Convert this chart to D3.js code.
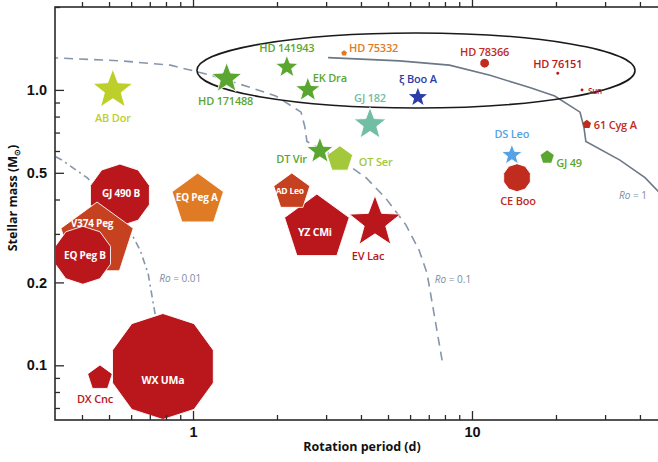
<!DOCTYPE html>
<html>
<head>
<meta charset="utf-8">
<script src="https://cdn.jsdelivr.net/npm/d3@7"></script>
<style>
  html, body { margin: 0; padding: 0; background: #fff; }
  svg { display: block; font-family: "Open Sans", "Noto Sans", sans-serif; }
</style>
</head>
<body>
<svg id="chart" width="658" height="462"></svg>
<script>
// ---- Data -------------------------------------------------------------
// Stars in drawing order (later ones sit on top).
const names = ["Sun", "HD 76151", "HD 78366", "HD 75332", "61 Cyg A", "AB Dor", "HD 171488",
  "HD 141943", "EK Dra", "ξ Boo A", "GJ 182", "DT Vir", "OT Ser", "DS Leo", "CE Boo", "GJ 49",
  "YZ CMi", "AD Leo", "EV Lac", "EQ Peg A", "GJ 490 B", "V374 Peg", "EQ Peg B", "WX UMa", "DX Cnc"];
// Rotation period (d)
const periods = [24.8, 20.3, 11.1, 3.48, 25.8, 0.516, 1.32, 2.17, 2.58, 6.4, 4.31, 2.85, 3.36,
  13.9, 14.5, 18.6, 2.78, 2.26, 4.49, 1.04, 0.547, 0.453, 0.403, 0.78, 0.464];
// Stellar mass (solar masses)
const masses = [1.0, 1.15, 1.25, 1.36, 0.75, 1.0, 1.1, 1.21, 1.0, 0.94, 0.75, 0.6, 0.56,
  0.58, 0.48, 0.57, 0.315, 0.426, 0.33, 0.398, 0.415, 0.285, 0.251, 0.099, 0.09];
// Mean large-scale field (kG) -> symbol size
const meanField = [0.03, 0.03, 0.09, 0.06, 0.09, 0.42, 0.32, 0.24, 0.26, 0.19, 0.34, 0.28, 0.27,
  0.22, 0.28, 0.14, 0.68, 0.38, 0.54, 0.54, 0.62, 0.76, 0.58, 1.06, 0.26];
// Fraction of magnetic energy in poloidal modes -> colour
const poloidal = [1.0, 1.0, 0.95, 0.8, 0.95, 0.7, 0.5, 0.5, 0.5, 0.1, 0.35, 0.5, 0.6,
  0.2, 0.95, 0.5, 1.0, 0.9, 1.0, 0.8, 1.0, 0.9, 1.0, 1.0, 1.0];
// Fraction of poloidal energy in axisymmetric modes -> shape
const axisymmetry = [0.9, 0.9, 0.9, 0.5, 0.5, 0.1, 0.1, 0.1, 0.1, 0.1, 0.1, 0.1, 0.5,
  0.1, 0.9, 0.5, 0.5, 0.5, 0.1, 0.5, 0.9, 0.5, 0.9, 0.9, 0.5];

// Convective turnover time vs mass: the Ro = 1 locus (P = tau_c)
const tauMass = [1.31, 1.275, 1.23, 1.13, 1.02, 0.95, 0.83, 0.73, 0.65, 0.556, 0.48, 0.405, 0.323, 0.262, 0.216, 0.1];
const tauDays = [3.05, 5.5, 8.3, 11.6, 16.1, 19.8, 24.4, 25.2, 25.6, 33.9, 41.7, 49, 58, 64.6, 69, 78.7];
const rossby = [0.01, 0.1, 1];

// Saturation regime outline (period range, mass range)
const ellipsePeriods = [1.033, 38.4];
const ellipseMasses = [0.86, 1.61];

// Axis ticks
const periodTickLabels = [1, 10];
const massTickLabels = [0.1, 0.2, 0.5, 1.0];

// ---- Layout -----------------------------------------------------------
const plotLeft = 55, plotRight = 660, plotTop = 7, plotBottom = 420;
const svg = d3.select("#chart");

const x = d3.scaleLog().domain([0.3201, 47.2]).range([plotLeft, plotRight]);
const y = d3.scaleLog().domain([0.0633, 2.0]).range([plotBottom, plotTop]);
const r = d3.scaleLinear().domain([0, 1]).range([0, 50]);

const colour = d3.scaleLinear()
  .domain([0.1, 0.2, 0.35, 0.5, 0.6, 0.7, 0.8, 0.9, 1.0])
  .range(["#2c3ca8", "#55a3e6", "#72bea4", "#5ba631", "#a3c83b", "#bdcf2b", "#de7b24", "#c6411f", "#b9171c"])
  .interpolate(d3.interpolateRgb);
const shapeOf = a => a >= 0.7 ? "decagon" : a >= 0.3 ? "pentagon" : "star";

// Label placement relative to each symbol
const labelLayout = {
  "Sun":       { dx: 6,  dy: 1,   anchor: "start",  size: 8 },
  "HD 76151":  { dx: 0,  dy: -10, anchor: "middle" },
  "HD 78366":  { dx: 0,  dy: -12, anchor: "middle" },
  "HD 75332":  { dx: 5,  dy: -6,  anchor: "start" },
  "61 Cyg A":  { dx: 7,  dy: 0,   anchor: "start" },
  "AB Dor":    { dx: 0,  dy: 28,  anchor: "middle" },
  "HD 171488": { dx: -1, dy: 22,  anchor: "middle" },
  "HD 141943": { dx: 0,  dy: -20, anchor: "middle" },
  "EK Dra":    { dx: 5,  dy: -12, anchor: "start" },
  "ξ Boo A":   { dx: 0,  dy: -19, anchor: "middle" },
  "GJ 182":    { dx: 0,  dy: -27, anchor: "middle" },
  "DT Vir":    { dx: -13, dy: 7,  anchor: "end" },
  "OT Ser":    { dx: 19, dy: 2,   anchor: "start" },
  "DS Leo":    { dx: 0,  dy: -22, anchor: "middle" },
  "CE Boo":    { dx: 1,  dy: 23,  anchor: "middle" },
  "GJ 49":     { dx: 9,  dy: 5,   anchor: "start" },
  "YZ CMi":    { dx: -2, dy: 4,   anchor: "middle", inside: true, size: 10.5 },
  "AD Leo":    { dx: -2, dy: -1,  anchor: "middle", inside: true, size: 8.5 },
  "EV Lac":    { dx: -7, dy: 33,  anchor: "middle" },
  "EQ Peg A":  { dx: -1, dy: -3,  anchor: "middle", inside: true, size: 10 },
  "GJ 490 B":  { dx: 1,  dy: -2,  anchor: "middle", inside: true, size: 10 },
  "V374 Peg":  { dx: -5, dy: -17, anchor: "middle", inside: true, size: 10 },
  "EQ Peg B":  { dx: 2,  dy: 0,   anchor: "middle", inside: true, size: 10 },
  "WX UMa":    { dx: 0,  dy: 13,  anchor: "middle", inside: true, size: 10.5 },
  "DX Cnc":    { dx: -5, dy: 21,  anchor: "middle" }
};

// ---- Symbol geometry ---------------------------------------------------
function polygonPath(n, R, rot) {
  const pts = d3.range(n).map(i => {
    const a = rot + i * 2 * Math.PI / n;
    return [R * Math.sin(a), -R * Math.cos(a)];
  });
  return "M" + pts.map(p => p.join(",")).join("L") + "Z";
}
function starPath(R) {
  const inner = R * 0.42;
  const pts = d3.range(10).map(i => {
    const a = i * Math.PI / 5;
    const rr = i % 2 === 0 ? R : inner;
    return [rr * Math.sin(a), -rr * Math.cos(a)];
  });
  return "M" + pts.map(p => p.join(",")).join("L") + "Z";
}
function symbolPath(shape, R) {
  if (shape === "star") return starPath(R);
  if (shape === "pentagon") return polygonPath(5, R, 0);
  return polygonPath(10, R, 0);
}

// ---- Clip --------------------------------------------------------------
svg.append("defs").append("clipPath").attr("id", "plot-clip")
  .append("rect").attr("x", plotLeft).attr("y", plotTop)
  .attr("width", plotRight - plotLeft).attr("height", plotBottom - plotTop);

const plot = svg.append("g").attr("clip-path", "url(#plot-clip)");

// ---- Rossby-number loci ------------------------------------------------
const rossbyStyle = {
  0.01: { dash: "7,4,2,4", stroke: "#8796aa" },
  0.1:  { dash: "9,6", stroke: "#8796aa" },
  1:    { dash: null, stroke: "#6c7886" }
};
const lineGen = d3.line().x(d => x(d[0])).y(d => y(d[1]));
rossby.forEach(ro => {
  const pts = tauDays.map((t, i) => [t * ro, tauMass[i]]);
  plot.append("path")
    .attr("d", lineGen(pts))
    .attr("fill", "none")
    .attr("stroke", rossbyStyle[ro].stroke)
    .attr("stroke-width", 1.6)
    .attr("stroke-dasharray", rossbyStyle[ro].dash);
});

// Rossby labels (period, mass)
const rossbyLabels = [
  { ro: "0.01", p: 0.9, m: 0.207 },
  { ro: "0.1", p: 8.55, m: 0.205 },
  { ro: "1", p: 37.8, m: 0.416 }
];
rossbyLabels.forEach(l => {
  const t = plot.append("text")
    .attr("x", x(l.p)).attr("y", y(l.m))
    .attr("text-anchor", "middle").attr("dominant-baseline", "central")
    .attr("font-size", 10).attr("fill", "#7b8ba3");
  t.append("tspan").attr("font-style", "italic").text("Ro");
  t.append("tspan").text(" = " + l.ro);
});

// ---- Saturation ellipse ------------------------------------------------
const ex0 = x(ellipsePeriods[0]), ex1 = x(ellipsePeriods[1]);
const ey0 = y(ellipseMasses[0]), ey1 = y(ellipseMasses[1]);
plot.append("ellipse")
  .attr("cx", (ex0 + ex1) / 2).attr("cy", (ey0 + ey1) / 2)
  .attr("rx", (ex1 - ex0) / 2).attr("ry", (ey0 - ey1) / 2)
  .attr("fill", "none").attr("stroke", "#1a1a1a").attr("stroke-width", 1.6);

// ---- Symbols -----------------------------------------------------------
const stars = names.map((n, i) => ({
  name: n, period: periods[i], mass: masses[i], field: meanField[i],
  pol: poloidal[i], shape: shapeOf(axisymmetry[i])
}));

const marks = plot.append("g");
stars.forEach(s => {
  const R = r(s.field);
  marks.append("path")
    .attr("transform", `translate(${x(s.period)},${y(s.mass)})`)
    .attr("d", symbolPath(s.shape, R))
    .attr("fill", colour(s.pol))
    .attr("stroke", R > 10 ? "#fff" : "none")
    .attr("stroke-width", 0.9)
    .attr("stroke-linejoin", "round");
  const L = labelLayout[s.name];
  marks.append("text")
    .attr("x", x(s.period) + L.dx).attr("y", y(s.mass) + L.dy)
    .attr("text-anchor", L.anchor).attr("dominant-baseline", "central")
    .attr("font-size", L.size || 11)
    .attr("font-weight", L.inside ? 700 : 600)
    .attr("letter-spacing", -0.2)
    .attr("fill", L.inside ? "#fff" : colour(s.pol))
    .text(s.name);
});

// ---- Axes --------------------------------------------------------------
const axisColor = "#2a2a2a";
const minorX = x.ticks().filter(v => !periodTickLabels.some(t => Math.abs(t - v) < 1e-9));
const minorY = y.ticks().filter(v => !massTickLabels.some(t => Math.abs(t - v) < 1e-9));

function styleAxis(g) {
  g.select(".domain").remove();
  g.selectAll("line").attr("stroke", axisColor).attr("stroke-width", 1.3);
  g.selectAll("text").attr("fill", "#111").attr("font-weight", 700).attr("font-size", 14.5);
}
// bottom / top
[[plotBottom, d3.axisBottom, true], [plotTop, d3.axisTop, false]].forEach(([yy, ax, labels]) => {
  svg.append("g").attr("transform", `translate(0,${yy})`)
    .call(ax(x).tickValues(minorX).tickSize(yy === plotBottom ? -5 : 5).tickFormat(""))
    .call(styleAxis);
  svg.append("g").attr("transform", `translate(0,${yy})`)
    .call(ax(x).tickValues(periodTickLabels).tickSize(yy === plotBottom ? -9 : 9).tickPadding(7)
      .tickFormat(labels ? d3.format("d") : ""))
    .call(styleAxis);
});
// left / right
[[plotLeft, d3.axisLeft, true], [plotRight, d3.axisRight, false]].forEach(([xx, ax, labels]) => {
  svg.append("g").attr("transform", `translate(${xx},0)`)
    .call(ax(y).tickValues(minorY).tickSize(xx === plotLeft ? -5 : 5).tickFormat(""))
    .call(styleAxis);
  svg.append("g").attr("transform", `translate(${xx},0)`)
    .call(ax(y).tickValues(massTickLabels).tickSize(xx === plotLeft ? -9 : 9).tickPadding(8)
      .tickFormat(labels ? d3.format(".1f") : ""))
    .call(styleAxis);
});
// frame
svg.append("rect")
  .attr("x", plotLeft).attr("y", plotTop)
  .attr("width", plotRight - plotLeft).attr("height", plotBottom - plotTop)
  .attr("fill", "none").attr("stroke", axisColor).attr("stroke-width", 1.6);

// axis titles
svg.append("text")
  .attr("x", 362).attr("y", 451)
  .attr("text-anchor", "middle").attr("font-size", 12.5).attr("font-weight", 700).attr("fill", "#111")
  .text("Rotation period (d)");
const yt = svg.append("text")
  .attr("transform", "translate(17,198) rotate(-90)")
  .attr("text-anchor", "middle").attr("font-size", 12.5).attr("font-weight", 700).attr("fill", "#111");
yt.append("tspan").text("Stellar mass (M");
yt.append("tspan").attr("font-size", 8).attr("baseline-shift", "-3").text("⊙");
yt.append("tspan").text(")");
</script>
</body>
</html>
